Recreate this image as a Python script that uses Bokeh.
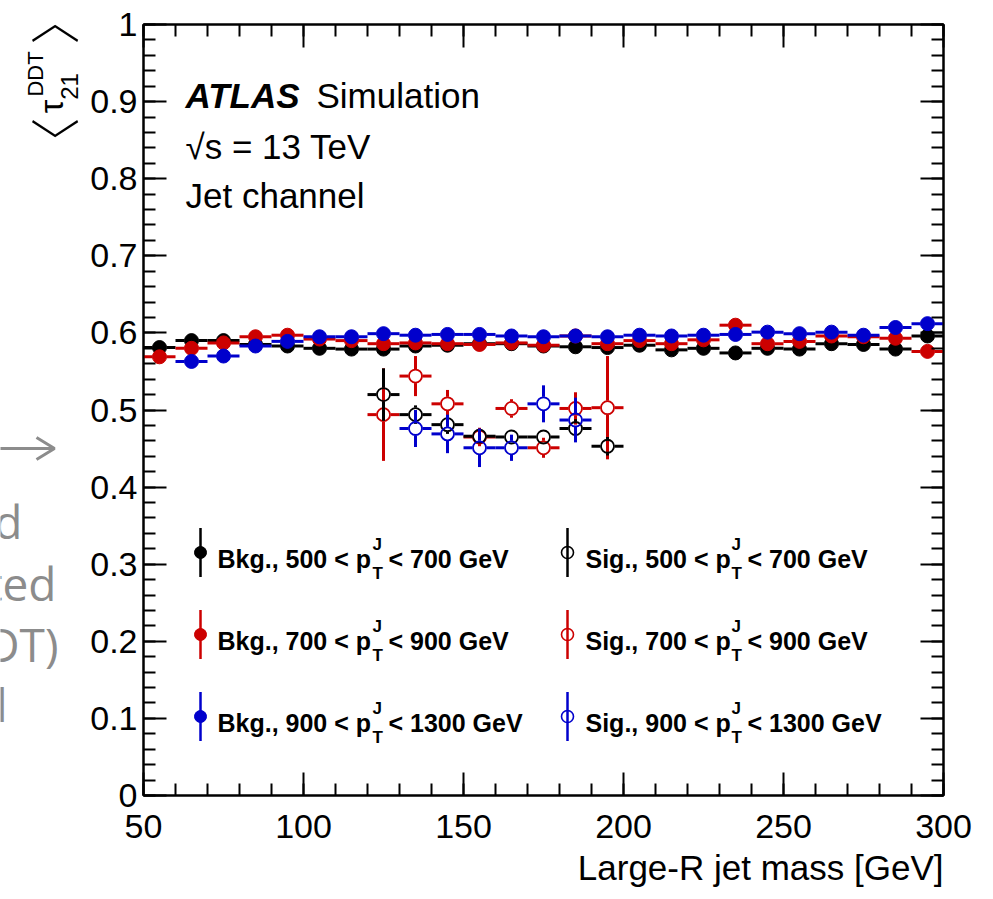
import numpy as np
from bokeh.plotting import figure
from bokeh.layouts import row
from bokeh.models import (Range1d, LinearAxis, SingleIntervalTicker,
                          CustomJSTickFormatter, Label, Title)
from bokeh.embed import file_html
from bokeh.resources import INLINE

# ---------------- data ----------------
mass_bins = [55, 65, 75, 85, 95, 105, 115, 125, 135, 145, 155, 165, 175,
             185, 195, 205, 215, 225, 235, 245, 255, 265, 275, 285, 295]
bin_half_width = 5

bkg_500_700 = [0.581, 0.590, 0.590, 0.585, 0.583, 0.580, 0.579, 0.579, 0.583, 0.584, 0.586, 0.586, 0.583,
               0.582, 0.581, 0.584, 0.578, 0.580, 0.574, 0.580, 0.579, 0.586, 0.585, 0.579, 0.596]
bkg_700_900 = [0.569, 0.580, 0.587, 0.595, 0.597, 0.592, 0.590, 0.586, 0.587, 0.586, 0.585, 0.587, 0.584,
               0.596, 0.586, 0.590, 0.586, 0.591, 0.610, 0.586, 0.589, 0.596, 0.595, 0.593, 0.576]
bkg_900_1300 = [None, 0.563, 0.570, 0.583, 0.589, 0.595, 0.595, 0.599, 0.597, 0.598, 0.598, 0.596, 0.595,
                0.596, 0.595, 0.597, 0.596, 0.597, 0.598, 0.601, 0.599, 0.601, 0.597, 0.607, 0.612]

sig_mass_bins = [125, 135, 145, 155, 165, 175, 185, 195]
sig_500_700 = [0.520, 0.494, 0.481, 0.466, 0.465, 0.465, 0.476, 0.453]
sig_500_700_err = [0.034, 0.012, 0.012, 0.008, 0.008, 0.008, 0.012, 0.012]
sig_700_900 = [0.494, 0.544, 0.508, 0.465, 0.502, 0.451, 0.502, 0.503]
sig_700_900_err = [0.060, 0.026, 0.018, 0.012, 0.012, 0.013, 0.021, 0.067]
sig_900_1300 = [None, 0.476, 0.469, 0.451, 0.451, 0.508, 0.487, None]
sig_900_1300_err = [None, 0.024, 0.025, 0.025, 0.017, 0.024, 0.029, None]

pt_ranges = ["500 < p", "700 < p", "900 < p"]
pt_upper = ["< 700 GeV", "< 900 GeV", "< 1300 GeV"]

BLACK, RED, BLUE = "#000000", "#cc0000", "#0000cc"
GRAY = "#8c8c8c"
FONT = "Liberation Sans"

# ---------------- layout (page pixels) ----------------
TOTAL_W, TOTAL_H = 993, 899
LEFT_W = 82
FRAME_L, FRAME_T, FRAME_W, FRAME_H = 143, 24, 800, 771
FRAME_B = FRAME_T + FRAME_H
MAIN_BOTTOM = TOTAL_H - FRAME_B
X_SCALE = FRAME_W / 250.0
Y_SCALE = FRAME_H / 1.0


def gx(px):
    return 50 + (px - FRAME_L) / X_SCALE


def gy(py):
    return (FRAME_B - py) / Y_SCALE


p = figure(frame_width=FRAME_W, frame_height=FRAME_H,
           x_range=Range1d(50, 300), y_range=Range1d(0, 1),
           output_backend="svg", toolbar_location=None,
           min_border_left=FRAME_L - LEFT_W, min_border_right=TOTAL_W - FRAME_L - FRAME_W,
           min_border_top=FRAME_T, min_border_bottom=MAIN_BOTTOM,
           background_fill_color="white", border_fill_color="white",
           outline_line_color="black", outline_line_width=2)
p.grid.visible = False


def style_axis(ax, interval, labels):
    ax.ticker = SingleIntervalTicker(interval=interval, num_minor_ticks=5)
    ax.major_tick_in = 23
    ax.major_tick_out = 0
    ax.minor_tick_in = 12
    ax.minor_tick_out = 0
    ax.axis_line_width = 2
    ax.major_tick_line_width = 2
    ax.minor_tick_line_width = 2
    ax.axis_line_color = "black"
    ax.major_tick_line_color = "black"
    ax.minor_tick_line_color = "black"
    if labels:
        ax.major_label_text_font = FONT
        ax.major_label_text_font_size = "34px"
        ax.major_label_text_color = "black"
    else:
        ax.formatter = CustomJSTickFormatter(code="return '';")
        ax.major_label_text_font_size = "0px"
        ax.major_label_standoff = 0


style_axis(p.xaxis[0], 50, True)
p.xaxis[0].major_label_standoff = 19
style_axis(p.yaxis[0], 0.1, True)
p.yaxis[0].major_label_standoff = 6
p.yaxis[0].formatter = CustomJSTickFormatter(
    code="if (Math.abs(tick) < 1e-9) return '0'; if (Math.abs(tick - 1) < 1e-9) return '1'; return tick.toFixed(1);")

top_ax = LinearAxis()
style_axis(top_ax, 50, False)
p.add_layout(top_ax, "above")
right_ax = LinearAxis()
style_axis(right_ax, 0.1, False)
p.add_layout(right_ax, "right")

# x-axis title (right-aligned under the axis, as in ROOT)
p.add_layout(Title(text="Large-R jet mass [GeV]", align="right",
                   text_font=FONT, text_font_size="35px", text_font_style="normal",
                   text_color="black", standoff=11), "below")

# ---------------- data drawing ----------------
R_PX = 7.0
gap_x = R_PX / X_SCALE
gap_y = R_PX / Y_SCALE


def draw_series(xs, ys, errs, color, filled):
    x = np.array(xs, dtype=float)
    y = np.array([np.nan if v is None else v for v in ys], dtype=float)
    p.segment(x - bin_half_width, y, x - gap_x, y, line_color=color, line_width=3)
    p.segment(x + gap_x, y, x + bin_half_width, y, line_color=color, line_width=3)
    if errs is not None:
        e = np.array([np.nan if v is None else v for v in errs], dtype=float)
        m = np.nan_to_num(e) > gap_y
        p.segment(x[m], y[m] + gap_y, x[m], y[m] + e[m], line_color=color, line_width=3)
        p.segment(x[m], y[m] - gap_y, x[m], y[m] - e[m], line_color=color, line_width=3)
    if filled:
        p.scatter(x, y, marker="circle", size=14, fill_color=color, line_color=color, line_width=1)
    else:
        p.scatter(x, y, marker="circle", size=13, fill_color=None, line_color=color, line_width=1.8)


draw_series(mass_bins, bkg_500_700, None, BLACK, True)
draw_series(mass_bins, bkg_700_900, None, RED, True)
draw_series(mass_bins, bkg_900_1300, None, BLUE, True)
draw_series(sig_mass_bins, sig_700_900, sig_700_900_err, RED, False)
draw_series(sig_mass_bins, sig_500_700, sig_500_700_err, BLACK, False)
draw_series(sig_mass_bins, sig_900_1300, sig_900_1300_err, BLUE, False)


def label(fig, x, y, text, size, style="normal", color="black", align="left",
          baseline="alphabetic", font=FONT, angle=0.0):
    fig.add_layout(Label(x=x, y=y, text=text, text_font=font,
                         text_font_size=size, text_font_style=style,
                         text_color=color, text_align=align,
                         text_baseline=baseline, angle=angle))


def mlabel(px, py, text, size, style="normal", **kw):
    label(p, gx(px), gy(py), text, size, style, **kw)


# ---------------- ATLAS texts ----------------
mlabel(185, 95, "ATLAS", "35px", "bold italic")
mlabel(316, 95, "Simulation", "35px")
mlabel(185, 146, "\u221as = 13 TeV", "35px")
mlabel(185, 195, "Jet channel", "35px")

# ---------------- legend ----------------
leg_col_px = [200, 567]
leg_text_px = [217, 585]
leg_sup_px = [372, 731]
leg_tail_px = [388, 747]
leg_row_py = [552, 634, 716]
row_colors = [BLACK, RED, BLUE]
for r in range(3):
    for c, prefix in enumerate(["Bkg., ", "Sig., "]):
        col = row_colors[r]
        cx, cy = gx(leg_col_px[c]), gy(leg_row_py[r])
        p.segment(cx, gy(leg_row_py[r] - 24.5), cx, gy(leg_row_py[r] + 24.5),
                  line_color=col, line_width=2.5)
        if c == 0:
            p.scatter(cx, cy, marker="circle", size=12, fill_color=col, line_color=col)
        else:
            p.scatter(cx, cy, marker="circle", size=12, fill_color=None, line_color=col, line_width=1.6)
        ry = leg_row_py[r]
        mlabel(leg_text_px[c], ry + 6, prefix + pt_ranges[r], "25px", "bold")
        mlabel(leg_sup_px[c], ry - 8, "J", "17px", "bold")
        mlabel(leg_sup_px[c], ry + 21, "T", "17px", "bold")
        mlabel(leg_tail_px[c], ry + 6, pt_upper[r], "25px", "bold")

# ---------------- left strip: y-axis title and cropped slide text ----------------
# its frame is aligned with the main frame (same top/bottom borders); y range in page pixels
left = figure(width=LEFT_W, height=TOTAL_H, x_range=Range1d(0, LEFT_W),
              y_range=Range1d(FRAME_B, FRAME_T),
              x_axis_type=None, y_axis_type=None, output_backend="svg",
              toolbar_location=None, min_border_left=0, min_border_right=0,
              min_border_top=FRAME_T, min_border_bottom=MAIN_BOTTOM,
              outline_line_color=None,
              background_fill_color="white", border_fill_color="white")
left.grid.visible = False

half_pi = np.pi / 2
BRACKET_FONT = "'Noto Sans CJK JP Light', 'Noto Sans CJK JP'"
label(left, 51, 142, "\u3008", "50px", align="center", baseline="middle",
      font=BRACKET_FONT, angle=half_pi)
label(left, 51, 19, "\u3009", "50px", align="center", baseline="middle",
      font=BRACKET_FONT, angle=half_pi)
label(left, 50, 106, "\u03c4", "34px", align="center", baseline="middle", angle=half_pi)
label(left, 69, 86, "21", "24px", align="center", baseline="middle", angle=half_pi)
label(left, 35, 73.5, "DDT", "22px", align="center", baseline="middle", angle=half_pi)

label(left, 22, 520, "d", "46px", color=GRAY, align="right", font="Open Sans")
label(left, 56, 582, "ted", "46px", color=GRAY, align="right", font="Open Sans")
label(left, 58, 643, "(DDT)", "46px", color=GRAY, align="right", font="Open Sans")
label(left, 7, 703, "l", "46px", color=GRAY, align="right", font="Open Sans")
# arrow pointing to the chart
left.segment(x0=-2, y0=448, x1=53, y1=448, line_color=GRAY, line_width=3)
left.line(x=[36, 54, 36], y=[437, 448, 459], line_color=GRAY, line_width=3)

layout = row(left, p)
open("out.html", "w").write(file_html(layout, INLINE))
